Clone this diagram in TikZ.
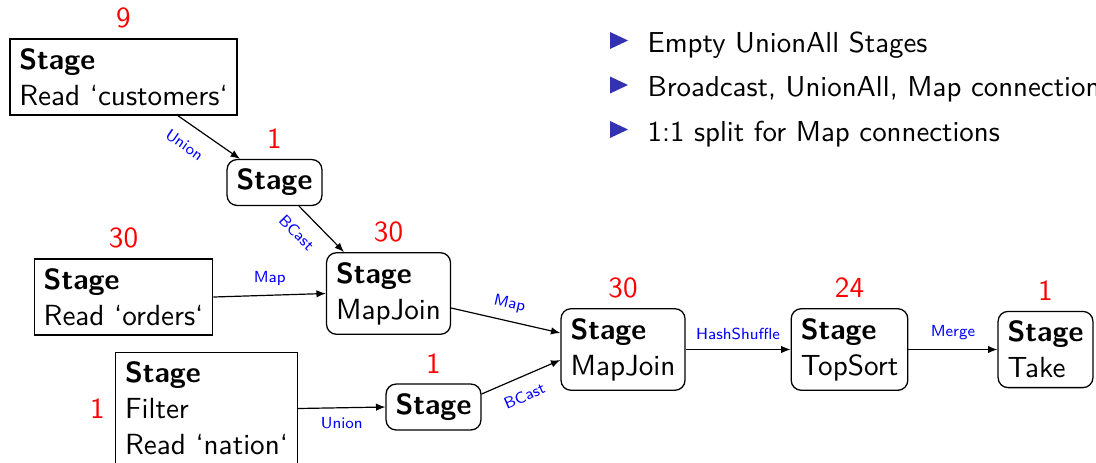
\documentclass[tikz,border=0pt]{standalone}
\usetikzlibrary{arrows.meta,calc}
\definecolor{bulletblue}{rgb}{0.2,0.2,0.7}
\begin{document}
\begin{tikzpicture}[x=0.35pt,y=-0.35pt,
  mainfont/.style={font=\sffamily\fontsize{10.2pt}{12.6pt}\selectfont},
  stagebox/.style={draw, line width=0.45pt, align=left, mainfont},
  roundbox/.style={stagebox, rounded corners=3.5pt},
  count/.style={text=red, mainfont},
  flow/.style={-{Latex[length=3.3pt,width=2.6pt]}, line width=0.42pt},
  edgelabel/.style={text=blue, font=\sffamily\fontsize{5.6pt}{7pt}\selectfont},
  itemtext/.style={anchor=base west, inner sep=0pt, font=\sffamily\fontsize{10.1pt}{12pt}\selectfont},
]
\useasboundingbox (0,0) rectangle (1096,462);

% stages of the query plan
\node[stagebox, label={[count]above:9}] (A) at (123.5,77) {\textbf{Stage}\\Read ‘customers‘};
\node[roundbox, label={[count]above:1}] (B) at (274.5,182.5) {\textbf{Stage}};
\node[stagebox, label={[count]above:30}] (D) at (123.5,297) {\textbf{Stage}\\Read ‘orders‘};
\node[roundbox, label={[count]above:30}] (C) at (388.5,293.5) {\textbf{Stage}\\MapJoin};
\node[stagebox, label={[count]left:1}] (E) at (206.5,408.5) {\textbf{Stage}\\Filter\\Read ‘nation‘};
\node[roundbox, label={[count]above:1}] (F) at (433.5,407) {\textbf{Stage}};
\node[roundbox, label={[count]above:30}] (G) at (623,349.5) {\textbf{Stage}\\MapJoin};
\node[roundbox, label={[count]above:24}] (H) at (849.5,349.5) {\textbf{Stage}\\TopSort};
\node[roundbox, label={[count]above:1}] (I) at (1045.5,349.5) {\textbf{Stage}\\Take};

% connections between stages
\draw[flow] ($(A.south)+(54.5,0)$) -- node[edgelabel, sloped, below=1.5pt, pos=0.29] {Union} ($(B.north)+(-34.5,0)$);
\draw[flow] ($(B.south)+(24.5,0)$) -- node[edgelabel, sloped, below=1.5pt, pos=0.27] {BCast} ($(C.north)+(-44.5,0)$);
\draw[flow] (D.east) -- node[edgelabel, above] {Map} (C.west);
\draw[flow] (E.east) -- node[edgelabel, below] {Union} (F.west);
\draw[flow] ($(C.east)+(0,14.5)$) -- node[edgelabel, sloped, above] {Map} ($(G.west)+(0,-16.5)$);
\draw[flow] ($(F.east)+(0,-13)$) -- node[edgelabel, sloped, below=1pt, pos=0.45] {BCast} ($(G.west)+(0,10.5)$);
\draw[flow] (G.east) -- node[edgelabel, above] {HashShuffle} (H.west);
\draw[flow] (H.east) -- node[edgelabel, above] {Merge} (I.west);

% bullet list
\foreach \yb in {52, 96.5, 141}
  \fill[bulletblue] (610,\yb-20) -- (628,\yb-11.5) -- (610,\yb-3) -- cycle;
\node[itemtext] (i1) at (647,52) {Empty UnionAll Stages};
\node[itemtext] (i2) at (647,96.5) {Broadcast, UnionAll, Map connections};
\node[itemtext] (i3) at (647,141) {1:1 split for Map connections};
\end{tikzpicture}
\end{document}
